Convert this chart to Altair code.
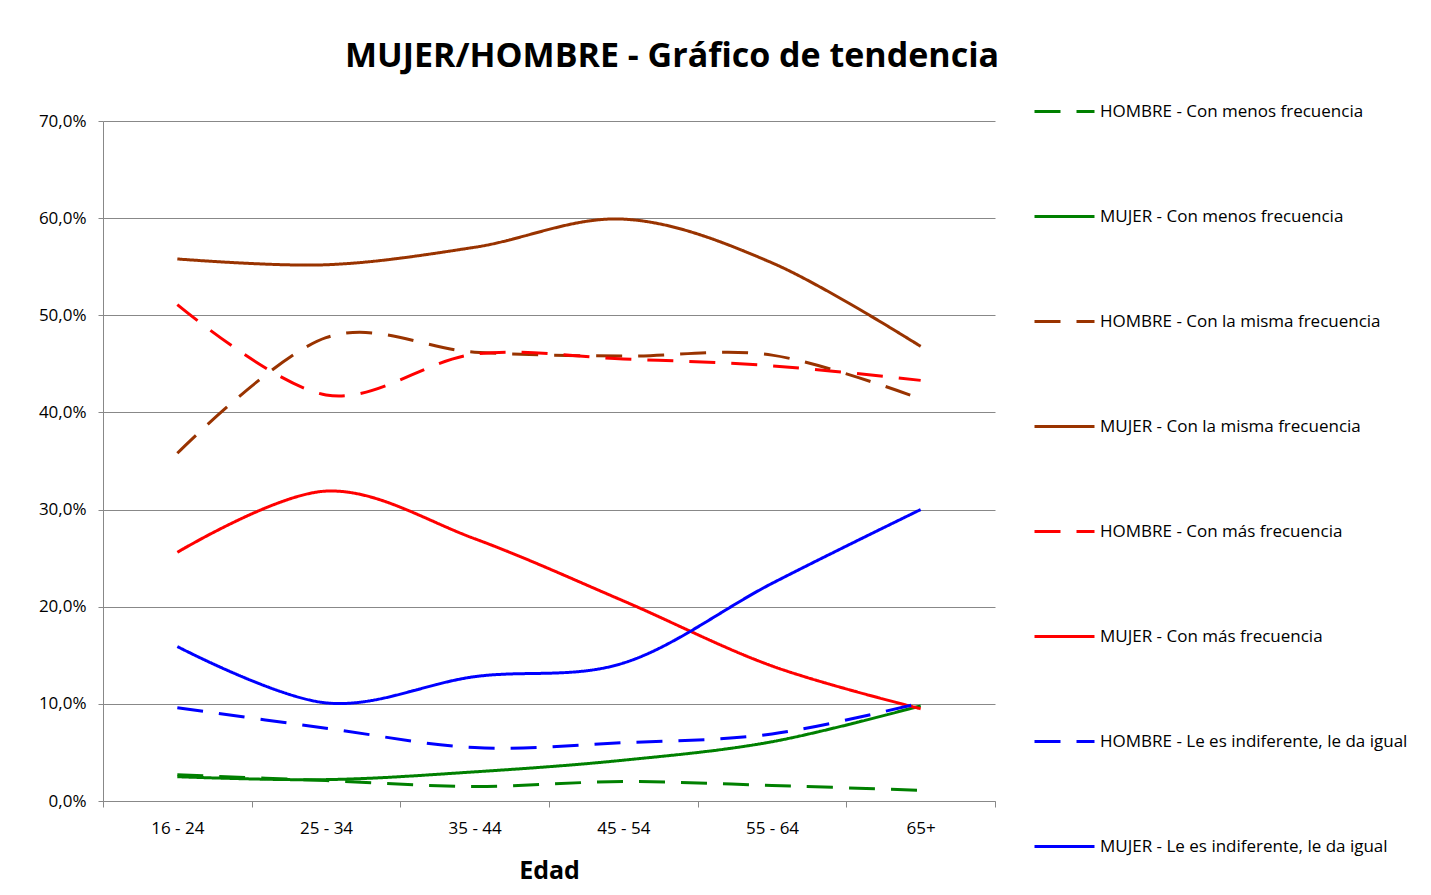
import altair as alt
import pandas as pd

edades = ["16 - 24", "25 - 34", "35 - 44", "45 - 54", "55 - 64", "65+"]

series = [
    "HOMBRE - Con menos frecuencia",
    "MUJER - Con menos frecuencia",
    "HOMBRE - Con la misma frecuencia",
    "MUJER - Con la misma frecuencia",
    "HOMBRE - Con más frecuencia",
    "MUJER - Con más frecuencia",
    "HOMBRE - Le es indiferente, le da igual",
    "MUJER - Le es indiferente, le da igual",
]

hombre_menos = [0.027, 0.021, 0.015, 0.020, 0.016, 0.011]
mujer_menos = [0.025, 0.022, 0.030, 0.042, 0.061, 0.098]
hombre_misma = [0.358, 0.477, 0.462, 0.458, 0.459, 0.414]
mujer_misma = [0.558, 0.552, 0.570, 0.599, 0.554, 0.468]
hombre_mas = [0.511, 0.418, 0.460, 0.455, 0.448, 0.433]
mujer_mas = [0.256, 0.319, 0.270, 0.206, 0.139, 0.095]
hombre_indif = [0.096, 0.075, 0.055, 0.060, 0.069, 0.101]
mujer_indif = [0.159, 0.101, 0.128, 0.142, 0.224, 0.300]

valores = [hombre_menos, mujer_menos, hombre_misma, mujer_misma,
           hombre_mas, mujer_mas, hombre_indif, mujer_indif]

colores = ["#008000", "#008000", "#993300", "#993300",
           "#FF0000", "#FF0000", "#0000FF", "#0000FF"]
dashes = [[26, 16], [1, 0], [26, 16], [1, 0],
          [26, 16], [1, 0], [26, 16], [1, 0]]

rows = []
for s, vals in zip(series, valores):
    for e, v in zip(edades, vals):
        rows.append({"Edad": e, "Serie": s, "Valor": v})
df = pd.DataFrame(rows)

FONT = "Open Sans"

chart = alt.Chart(df).mark_line(
    interpolate="cardinal", strokeWidth=3
).encode(
    x=alt.X("Edad:N", sort=edades, scale=alt.Scale(paddingInner=0, paddingOuter=0),
            axis=alt.Axis(title="Edad", labelAngle=0, tickBand="extent",
                          titleFontSize=25, titleFontWeight="bold",
                          titlePadding=22, labelPadding=13,
                          labelFontSize=17, tickSize=6, grid=False)),
    y=alt.Y("Valor:Q", scale=alt.Scale(domain=[0, 0.7], nice=False),
            axis=alt.Axis(title=None, values=[0, 0.1, 0.2, 0.3, 0.4, 0.5, 0.6, 0.7],
                          labelExpr="replace(format(datum.value, '.1%'), '.', ',')",
                          labelFontSize=17, labelPadding=12, tickSize=5, grid=True)),
    color=alt.Color("Serie:N", sort=series,
                    scale=alt.Scale(domain=series, range=colores),
                    legend=alt.Legend(title=None)),
    strokeDash=alt.StrokeDash("Serie:N", sort=series,
                              scale=alt.Scale(domain=series, range=dashes),
                              legend=alt.Legend(title=None)),
    detail="Serie:N",
).properties(
    width=892,
    height=680,
    autosize=alt.AutoSizeParams(type="none"),
    padding={"left": 95, "top": 113, "right": 420, "bottom": 86},
    title=alt.Title("MUJER/HOMBRE - Gráfico de tendencia", fontSize=34,
                    fontWeight="bold", font=FONT, anchor="middle",
                    dx=123, offset=6, color="#000000"),
).configure(
    font=FONT,
).configure_view(
    stroke=None,
).configure_axis(
    domainColor="#888888",
    gridColor="#888888",
    tickColor="#888888",
    labelColor="#000000",
    titleColor="#000000",
    labelFont=FONT,
    titleFont=FONT,
    domainWidth=1,
    gridWidth=1,
).configure_legend(
    orient="none",
    legendX=930,
    legendY=-41,
    symbolType="stroke",
    symbolSize=3600,
    symbolStrokeWidth=3,
    labelFontSize=17,
    labelFont=FONT,
    labelColor="#000000",
    labelOffset=4,
    rowPadding=65,
    labelLimit=400,
)

chart.save("out.html", embed_options={"renderer": "svg", "actions": False})
